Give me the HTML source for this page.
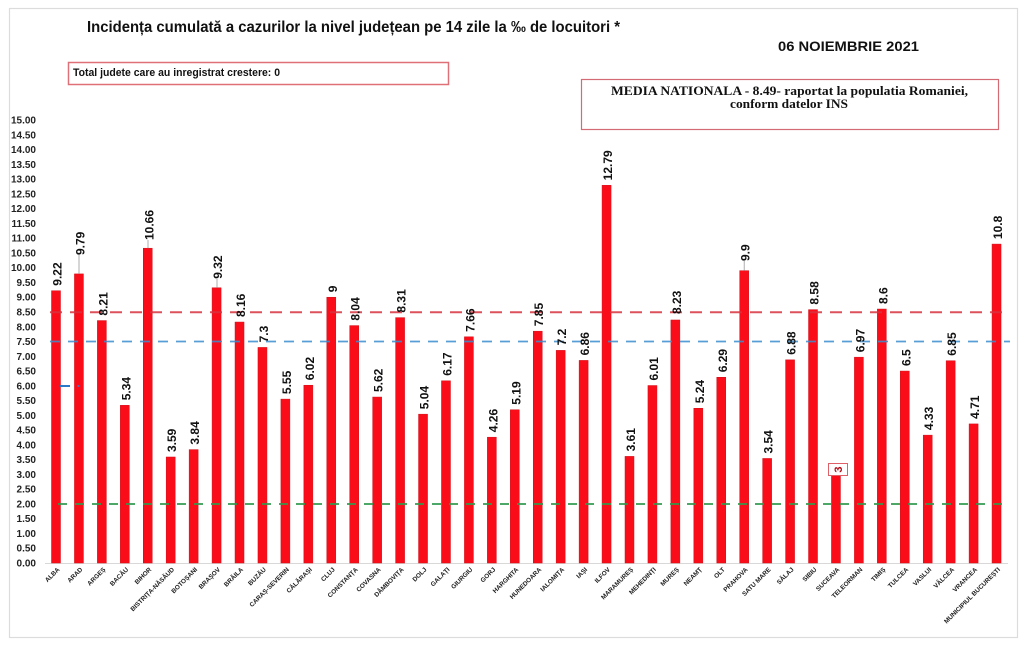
<!DOCTYPE html>
<html>
<head>
<meta charset="utf-8">
<style>
html,body{margin:0;padding:0;background:#fff;}
svg{display:block;}
.yt{font-family:"Liberation Sans",sans-serif;font-weight:bold;font-size:10px;fill:#222;text-anchor:end;}
.dl{font-family:"Liberation Sans",sans-serif;font-weight:bold;font-size:12px;fill:#111;}
.xl{font-family:"Liberation Sans",sans-serif;font-weight:bold;font-size:6.4px;fill:#222;text-anchor:end;}
.bar{fill:#fa0d18;stroke:#d0101a;stroke-width:0.5;}
</style>
</head>
<body>
<svg width="1024" height="649" viewBox="0 0 1024 649" xmlns="http://www.w3.org/2000/svg">
<rect x="0" y="0" width="1024" height="649" fill="#fff"/>
<rect x="9.5" y="8.5" width="1008" height="629" fill="none" stroke="#dcdcdc" stroke-width="1.2"/>

<!-- Title -->
<text x="87" y="32" font-family="Liberation Sans, sans-serif" font-weight="bold" font-size="16" fill="#111" textLength="533" lengthAdjust="spacingAndGlyphs">Incidența cumulată a cazurilor la nivel județean pe 14 zile la ‰ de locuitori *</text>
<text x="778" y="51" font-family="Liberation Sans, sans-serif" font-weight="bold" font-size="14" fill="#111" textLength="141" lengthAdjust="spacingAndGlyphs">06 NOIEMBRIE 2021</text>

<!-- Box 1 -->
<rect x="68.5" y="62.5" width="380" height="22" fill="#fff" stroke="#e07078" stroke-width="1.5"/>
<text x="73" y="76" font-family="Liberation Sans, sans-serif" font-weight="bold" font-size="11" fill="#111" textLength="207" lengthAdjust="spacingAndGlyphs">Total judete care au inregistrat crestere: 0</text>

<!-- Box 2 -->
<rect x="581.5" y="79.5" width="417" height="50" fill="#fff" stroke="#d46a74" stroke-width="1.2"/>
<text x="611" y="95" font-family="Liberation Serif, serif" font-weight="bold" font-size="13" fill="#111" textLength="357" lengthAdjust="spacingAndGlyphs">MEDIA NATIONALA - 8.49-  raportat la populatia Romaniei,</text>
<text x="730" y="108" font-family="Liberation Serif, serif" font-weight="bold" font-size="13" fill="#111" textLength="118" lengthAdjust="spacingAndGlyphs">conform datelor INS</text>

<!-- Y tick labels -->
<g class="yt">
<text x="36" y="123.5">15.00</text>
<text x="36" y="138.3">14.50</text>
<text x="36" y="153.1">14.00</text>
<text x="36" y="167.9">13.50</text>
<text x="36" y="182.6">13.00</text>
<text x="36" y="197.4">12.50</text>
<text x="36" y="212.1">12.00</text>
<text x="36" y="226.9">11.50</text>
<text x="36" y="241.7">11.00</text>
<text x="36" y="256.4">10.50</text>
<text x="36" y="271.2">10.00</text>
<text x="36" y="286.0">9.50</text>
<text x="36" y="300.7">9.00</text>
<text x="36" y="315.5">8.50</text>
<text x="36" y="330.3">8.00</text>
<text x="36" y="345.0">7.50</text>
<text x="36" y="359.8">7.00</text>
<text x="36" y="374.6">6.50</text>
<text x="36" y="389.3">6.00</text>
<text x="36" y="404.1">5.50</text>
<text x="36" y="418.9">5.00</text>
<text x="36" y="433.6">4.50</text>
<text x="36" y="448.4">4.00</text>
<text x="36" y="463.2">3.50</text>
<text x="36" y="477.9">3.00</text>
<text x="36" y="492.7">2.50</text>
<text x="36" y="507.4">2.00</text>
<text x="36" y="522.2">1.50</text>
<text x="36" y="537.0">1.00</text>
<text x="36" y="551.7">0.50</text>
<text x="36" y="566.5">0.00</text>
</g>

<!-- baseline -->
<line x1="45" y1="563.5" x2="1008" y2="563.5" stroke="#d8d8d8" stroke-width="1"/>

<!-- Bars -->
<g class="bar">
<rect x="51.5" y="290.73" width="9" height="272.27"/>
<rect x="74.44" y="273.90" width="9" height="289.10"/>
<rect x="97.38" y="320.56" width="9" height="242.44"/>
<rect x="120.32" y="405.31" width="9" height="157.69"/>
<rect x="143.26" y="248.21" width="9" height="314.79"/>
<rect x="166.20" y="456.99" width="9" height="106.01"/>
<rect x="189.14" y="449.60" width="9" height="113.40"/>
<rect x="212.08" y="287.78" width="9" height="275.22"/>
<rect x="235.02" y="322.04" width="9" height="240.96"/>
<rect x="257.96" y="347.43" width="9" height="215.57"/>
<rect x="280.90" y="399.11" width="9" height="163.89"/>
<rect x="303.84" y="385.23" width="9" height="177.77"/>
<rect x="326.78" y="297.23" width="9" height="265.77"/>
<rect x="349.72" y="325.58" width="9" height="237.42"/>
<rect x="372.66" y="397.04" width="9" height="165.96"/>
<rect x="395.60" y="317.61" width="9" height="245.39"/>
<rect x="418.54" y="414.17" width="9" height="148.83"/>
<rect x="441.48" y="380.80" width="9" height="182.20"/>
<rect x="464.42" y="336.80" width="9" height="226.20"/>
<rect x="487.36" y="437.20" width="9" height="125.80"/>
<rect x="510.30" y="409.74" width="9" height="153.26"/>
<rect x="533.24" y="331.19" width="9" height="231.81"/>
<rect x="556.18" y="350.38" width="9" height="212.62"/>
<rect x="579.12" y="360.42" width="9" height="202.58"/>
<rect x="602.06" y="185.31" width="9" height="377.69"/>
<rect x="625.00" y="456.40" width="9" height="106.60"/>
<rect x="647.94" y="385.52" width="9" height="177.48"/>
<rect x="670.88" y="319.97" width="9" height="243.03"/>
<rect x="693.82" y="408.26" width="9" height="154.74"/>
<rect x="716.76" y="377.26" width="9" height="185.74"/>
<rect x="739.70" y="270.65" width="9" height="292.35"/>
<rect x="762.64" y="458.46" width="9" height="104.54"/>
<rect x="785.58" y="359.83" width="9" height="203.17"/>
<rect x="808.52" y="309.63" width="9" height="253.37"/>
<rect x="831.46" y="474.41" width="9" height="88.59"/>
<rect x="854.40" y="357.18" width="9" height="205.82"/>
<rect x="877.34" y="309.04" width="9" height="253.96"/>
<rect x="900.28" y="371.05" width="9" height="191.95"/>
<rect x="923.22" y="435.14" width="9" height="127.86"/>
<rect x="946.16" y="360.72" width="9" height="202.28"/>
<rect x="969.10" y="423.91" width="9" height="139.09"/>
<rect x="992.04" y="244.08" width="9" height="318.92"/>
</g>

<!-- Reference lines -->
<line x1="50" y1="312.3" x2="1010" y2="312.3" stroke="#d8333f" stroke-width="2" stroke-dasharray="12,8" opacity="0.85"/>
<line x1="50" y1="341.5" x2="1010" y2="341.5" stroke="#3a8ed0" stroke-width="1.8" stroke-dasharray="10,8" opacity="0.85"/>
<line x1="58" y1="504" x2="1010" y2="504" stroke="#2f9a4e" stroke-width="2" stroke-dasharray="9,8" opacity="0.85"/>
<line x1="60" y1="386" x2="70" y2="386" stroke="#2a78c8" stroke-width="2"/>
<rect x="77.5" y="385" width="2" height="2" fill="#5a6ab0"/>

<!-- leader lines -->
<g stroke="#999" stroke-width="0.8">
<line x1="79" y1="255" x2="79" y2="273.9"/>
<line x1="148" y1="240" x2="148" y2="248.2"/>
<line x1="217" y1="279" x2="217" y2="287.8"/>
<line x1="744.2" y1="261" x2="744.2" y2="270.6"/>
</g>

<!-- Data labels -->
<g class="dl">
<text x="61.5" y="285.7" transform="rotate(-90 61.5 285.7)">9.22</text>
<text x="84.44" y="255" transform="rotate(-90 84.44 255)">9.79</text>
<text x="107.38" y="315.6" transform="rotate(-90 107.38 315.6)">8.21</text>
<text x="130.32" y="400.3" transform="rotate(-90 130.32 400.3)">5.34</text>
<text x="153.26" y="240" transform="rotate(-90 153.26 240)">10.66</text>
<text x="176.20" y="452.0" transform="rotate(-90 176.20 452.0)">3.59</text>
<text x="199.14" y="444.6" transform="rotate(-90 199.14 444.6)">3.84</text>
<text x="222.08" y="278.8" transform="rotate(-90 222.08 278.8)">9.32</text>
<text x="245.02" y="317.0" transform="rotate(-90 245.02 317.0)">8.16</text>
<text x="267.96" y="342.4" transform="rotate(-90 267.96 342.4)">7.3</text>
<text x="290.90" y="394.1" transform="rotate(-90 290.90 394.1)">5.55</text>
<text x="313.84" y="380.2" transform="rotate(-90 313.84 380.2)">6.02</text>
<text x="336.78" y="292.2" transform="rotate(-90 336.78 292.2)">9</text>
<text x="359.72" y="320.6" transform="rotate(-90 359.72 320.6)">8.04</text>
<text x="382.66" y="392.0" transform="rotate(-90 382.66 392.0)">5.62</text>
<text x="405.60" y="312.6" transform="rotate(-90 405.60 312.6)">8.31</text>
<text x="428.54" y="409.2" transform="rotate(-90 428.54 409.2)">5.04</text>
<text x="451.48" y="375.8" transform="rotate(-90 451.48 375.8)">6.17</text>
<text x="474.42" y="331.8" transform="rotate(-90 474.42 331.8)">7.66</text>
<text x="497.36" y="432.2" transform="rotate(-90 497.36 432.2)">4.26</text>
<text x="520.30" y="404.7" transform="rotate(-90 520.30 404.7)">5.19</text>
<text x="543.24" y="326.2" transform="rotate(-90 543.24 326.2)">7.85</text>
<text x="566.18" y="345.4" transform="rotate(-90 566.18 345.4)">7.2</text>
<text x="589.12" y="355.4" transform="rotate(-90 589.12 355.4)">6.86</text>
<text x="612.06" y="180.3" transform="rotate(-90 612.06 180.3)">12.79</text>
<text x="635.00" y="451.4" transform="rotate(-90 635.00 451.4)">3.61</text>
<text x="657.94" y="380.5" transform="rotate(-90 657.94 380.5)">6.01</text>
<text x="680.88" y="314.0" transform="rotate(-90 680.88 314.0)">8.23</text>
<text x="703.82" y="403.3" transform="rotate(-90 703.82 403.3)">5.24</text>
<text x="726.76" y="372.3" transform="rotate(-90 726.76 372.3)">6.29</text>
<text x="749.70" y="261" transform="rotate(-90 749.70 261)">9.9</text>
<text x="772.64" y="453.5" transform="rotate(-90 772.64 453.5)">3.54</text>
<text x="795.58" y="354.8" transform="rotate(-90 795.58 354.8)">6.88</text>
<text x="818.52" y="304.6" transform="rotate(-90 818.52 304.6)">8.58</text>
<text x="864.40" y="352.2" transform="rotate(-90 864.40 352.2)">6.97</text>
<text x="887.34" y="304.0" transform="rotate(-90 887.34 304.0)">8.6</text>
<text x="910.28" y="366.0" transform="rotate(-90 910.28 366.0)">6.5</text>
<text x="933.22" y="430.1" transform="rotate(-90 933.22 430.1)">4.33</text>
<text x="956.16" y="355.7" transform="rotate(-90 956.16 355.7)">6.85</text>
<text x="979.10" y="418.9" transform="rotate(-90 979.10 418.9)">4.71</text>
<text x="1002.04" y="239.1" transform="rotate(-90 1002.04 239.1)">10.8</text>
</g>

<!-- Suceava boxed label -->
<rect x="828.5" y="463.5" width="19" height="12" fill="#fff" stroke="#e06068" stroke-width="1"/>
<text x="842" y="469.5" transform="rotate(-90 842 469.5)" text-anchor="middle" font-family="Liberation Sans, sans-serif" font-weight="bold" font-size="11" fill="#b01018">3</text>

<!-- X labels -->
<g class="xl">
<text x="60.00" y="570" transform="rotate(-45 60.00 570)">ALBA</text>
<text x="82.94" y="570" transform="rotate(-45 82.94 570)">ARAD</text>
<text x="105.88" y="570" transform="rotate(-45 105.88 570)">ARGEȘ</text>
<text x="128.82" y="570" transform="rotate(-45 128.82 570)">BACĂU</text>
<text x="151.76" y="570" transform="rotate(-45 151.76 570)">BIHOR</text>
<text x="174.70" y="570" transform="rotate(-45 174.70 570)">BISTRIȚA-NĂSĂUD</text>
<text x="197.64" y="570" transform="rotate(-45 197.64 570)">BOTOȘANI</text>
<text x="220.58" y="570" transform="rotate(-45 220.58 570)">BRAȘOV</text>
<text x="243.52" y="570" transform="rotate(-45 243.52 570)">BRĂILA</text>
<text x="266.46" y="570" transform="rotate(-45 266.46 570)">BUZĂU</text>
<text x="289.40" y="570" transform="rotate(-45 289.40 570)">CARAȘ-SEVERIN</text>
<text x="312.34" y="570" transform="rotate(-45 312.34 570)">CĂLĂRAȘI</text>
<text x="335.28" y="570" transform="rotate(-45 335.28 570)">CLUJ</text>
<text x="358.22" y="570" transform="rotate(-45 358.22 570)">CONSTANȚA</text>
<text x="381.16" y="570" transform="rotate(-45 381.16 570)">COVASNA</text>
<text x="404.10" y="570" transform="rotate(-45 404.10 570)">DÂMBOVIȚA</text>
<text x="427.04" y="570" transform="rotate(-45 427.04 570)">DOLJ</text>
<text x="449.98" y="570" transform="rotate(-45 449.98 570)">GALAȚI</text>
<text x="472.92" y="570" transform="rotate(-45 472.92 570)">GIURGIU</text>
<text x="495.86" y="570" transform="rotate(-45 495.86 570)">GORJ</text>
<text x="518.80" y="570" transform="rotate(-45 518.80 570)">HARGHITA</text>
<text x="541.74" y="570" transform="rotate(-45 541.74 570)">HUNEDOARA</text>
<text x="564.68" y="570" transform="rotate(-45 564.68 570)">IALOMIȚA</text>
<text x="587.62" y="570" transform="rotate(-45 587.62 570)">IAȘI</text>
<text x="610.56" y="570" transform="rotate(-45 610.56 570)">ILFOV</text>
<text x="633.50" y="570" transform="rotate(-45 633.50 570)">MARAMUREȘ</text>
<text x="656.44" y="570" transform="rotate(-45 656.44 570)">MEHEDINȚI</text>
<text x="679.38" y="570" transform="rotate(-45 679.38 570)">MUREȘ</text>
<text x="702.32" y="570" transform="rotate(-45 702.32 570)">NEAMȚ</text>
<text x="725.26" y="570" transform="rotate(-45 725.26 570)">OLT</text>
<text x="748.20" y="570" transform="rotate(-45 748.20 570)">PRAHOVA</text>
<text x="771.14" y="570" transform="rotate(-45 771.14 570)">SATU MARE</text>
<text x="794.08" y="570" transform="rotate(-45 794.08 570)">SĂLAJ</text>
<text x="817.02" y="570" transform="rotate(-45 817.02 570)">SIBIU</text>
<text x="839.96" y="570" transform="rotate(-45 839.96 570)">SUCEAVA</text>
<text x="862.90" y="570" transform="rotate(-45 862.90 570)">TELEORMAN</text>
<text x="885.84" y="570" transform="rotate(-45 885.84 570)">TIMIȘ</text>
<text x="908.78" y="570" transform="rotate(-45 908.78 570)">TULCEA</text>
<text x="931.72" y="570" transform="rotate(-45 931.72 570)">VASLUI</text>
<text x="954.66" y="570" transform="rotate(-45 954.66 570)">VÂLCEA</text>
<text x="977.60" y="570" transform="rotate(-45 977.60 570)">VRANCEA</text>
<text x="1000.54" y="570" transform="rotate(-45 1000.54 570)">MUNICIPIUL BUCUREȘTI</text>
</g>
</svg>
</body>
</html>
